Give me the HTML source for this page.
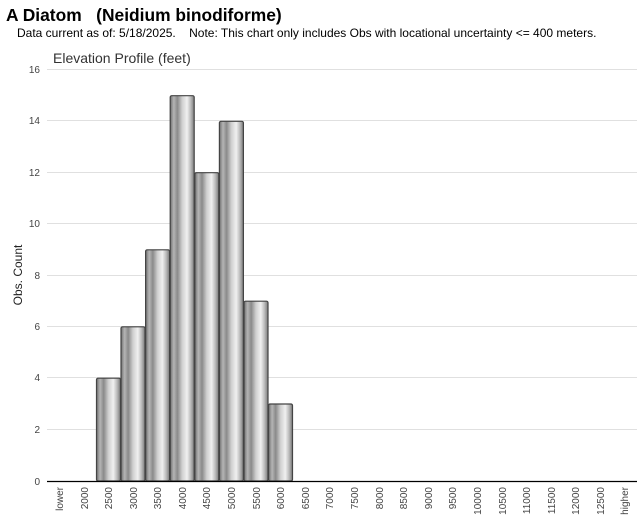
<!DOCTYPE html>
<html><head><meta charset="utf-8"><style>
body{margin:0;background:#fff;width:640px;height:523px;overflow:hidden;font-family:"Liberation Sans",Arial,sans-serif}
</style></head><body>
<svg width="640" height="523" xmlns="http://www.w3.org/2000/svg" font-family="Liberation Sans, Arial, sans-serif">
<defs>
<linearGradient id="g" x1="0" x2="1" y1="0" y2="0">
<stop offset="0" stop-color="#6e6e6e"/>
<stop offset="0.15" stop-color="#b5b5b5"/>
<stop offset="0.3" stop-color="#8a8a8a"/>
<stop offset="0.5" stop-color="#d0d0d0"/>
<stop offset="0.7" stop-color="#f0f0f0"/>
<stop offset="0.85" stop-color="#bdbdbd"/>
<stop offset="1" stop-color="#7a7a7a"/>
</linearGradient>
</defs>
<text x="6" y="21" font-size="17.4" font-weight="bold" fill="#000">A Diatom &#160;&#160;(Neidium binodiforme)</text>
<text x="17" y="37" font-size="12" fill="#000">Data current as of: 5/18/2025. &#160;&#160;&#160;Note: This chart only includes Obs with locational uncertainty &lt;= 400 meters.</text>
<text x="53" y="63" font-size="14" fill="#333">Elevation Profile (feet)</text>
<g stroke="#e0e0e0" stroke-width="1">
<line x1="47" x2="637" y1="69.5" y2="69.5"/>
<line x1="47" x2="637" y1="120.5" y2="120.5"/>
<line x1="47" x2="637" y1="172.5" y2="172.5"/>
<line x1="47" x2="637" y1="223.5" y2="223.5"/>
<line x1="47" x2="637" y1="275.5" y2="275.5"/>
<line x1="47" x2="637" y1="326.5" y2="326.5"/>
<line x1="47" x2="637" y1="377.5" y2="377.5"/>
<line x1="47" x2="637" y1="429.5" y2="429.5"/>
</g>
<g font-size="10" fill="#444" text-anchor="end">
<text x="40" y="73">16</text><text x="40" y="124">14</text><text x="40" y="176">12</text>
<text x="40" y="227">10</text><text x="40" y="279">8</text><text x="40" y="330">6</text>
<text x="40" y="381">4</text><text x="40" y="433">2</text><text x="40" y="485">0</text>
</g>
<text transform="translate(22,275) rotate(-90)" font-size="12" fill="#222" text-anchor="middle">Obs. Count</text>
<g fill="url(#g)" stroke="#444" stroke-width="1.2">
<rect x="96.5" y="378.2" width="24" height="102.8" rx="1.5"/>
<rect x="121" y="326.8" width="24" height="154.2" rx="1.5"/>
<rect x="145.6" y="249.8" width="24" height="231.2" rx="1.5"/>
<rect x="170.2" y="95.7" width="24" height="385.3" rx="1.5"/>
<rect x="194.8" y="172.7" width="24" height="308.3" rx="1.5"/>
<rect x="219.4" y="121.3" width="24" height="359.7" rx="1.5"/>
<rect x="244" y="301.2" width="24" height="179.8" rx="1.5"/>
<rect x="268.5" y="404" width="24" height="77" rx="1.5"/>
</g>
<line x1="47" x2="637" y1="481.5" y2="481.5" stroke="#000" stroke-width="1.2"/>
<g font-size="10" fill="#444" text-anchor="end">
<text transform="translate(63,487) rotate(-90)">lower</text>
<text transform="translate(88,487) rotate(-90)">2000</text>
<text transform="translate(112,487) rotate(-90)">2500</text>
<text transform="translate(137,487) rotate(-90)">3000</text>
<text transform="translate(161,487) rotate(-90)">3500</text>
<text transform="translate(186,487) rotate(-90)">4000</text>
<text transform="translate(210,487) rotate(-90)">4500</text>
<text transform="translate(235,487) rotate(-90)">5000</text>
<text transform="translate(260,487) rotate(-90)">5500</text>
<text transform="translate(284,487) rotate(-90)">6000</text>
<text transform="translate(309,487) rotate(-90)">6500</text>
<text transform="translate(333,487) rotate(-90)">7000</text>
<text transform="translate(358,487) rotate(-90)">7500</text>
<text transform="translate(383,487) rotate(-90)">8000</text>
<text transform="translate(407,487) rotate(-90)">8500</text>
<text transform="translate(432,487) rotate(-90)">9000</text>
<text transform="translate(456,487) rotate(-90)">9500</text>
<text transform="translate(481,487) rotate(-90)">10000</text>
<text transform="translate(506,487) rotate(-90)">10500</text>
<text transform="translate(530,487) rotate(-90)">11000</text>
<text transform="translate(555,487) rotate(-90)">11500</text>
<text transform="translate(579,487) rotate(-90)">12000</text>
<text transform="translate(604,487) rotate(-90)">12500</text>
<text transform="translate(628,487) rotate(-90)">higher</text>
</g>
</svg>
</body></html>
